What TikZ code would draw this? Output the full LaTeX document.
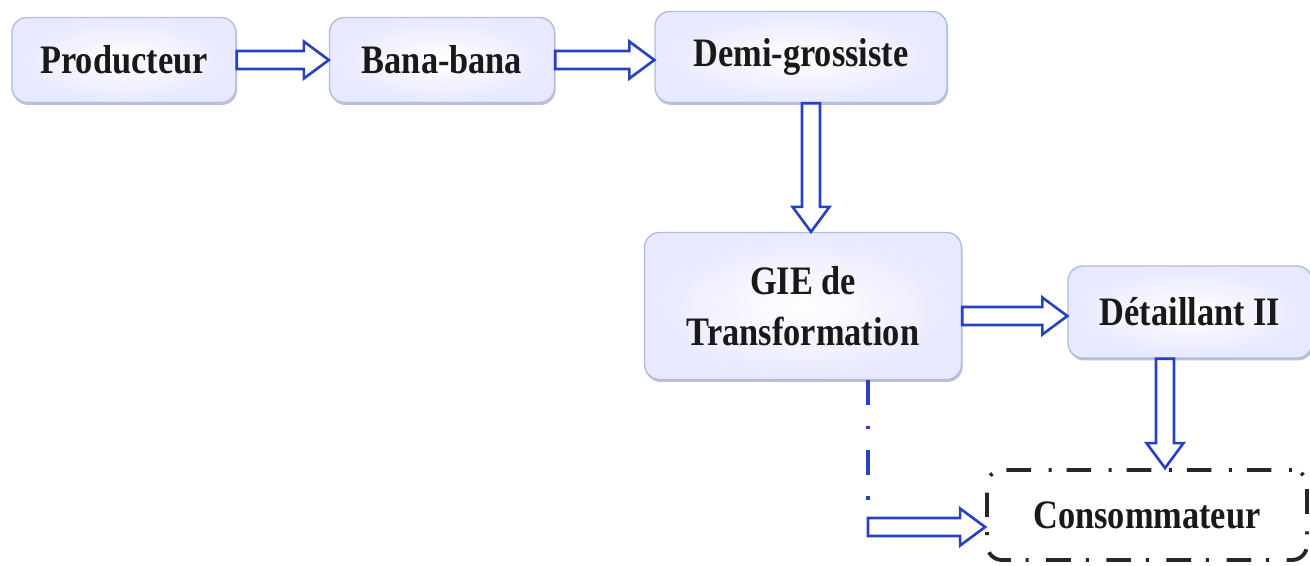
\documentclass[tikz,border=0pt]{standalone}
\usepackage{fontspec}
\setmainfont{Liberation Serif}[FakeStretch=0.85]
\usepackage{tikz}
\usetikzlibrary{calc, shadows}
\definecolor{arrowblue}{RGB}{40,65,195}
\definecolor{boxedge}{RGB}{175,190,220}
\tikzset{
  box/.style={rounded corners=0.3cm, draw=boxedge, line width=0.8pt,
    inner color=white, outer color=blue!9,
    drop shadow={shadow xshift=0.6pt, shadow yshift=-1.4pt, fill=blue!25!gray, opacity=0.4},
    font=\fontsize{23}{29}\selectfont\bfseries, text=black!90, align=center},
  endbox/.style={rounded corners=0.3cm, draw=black!85, line width=2.2pt,
    dash pattern=on 1.7pt off 10pt on 14pt off 8.5pt, fill=white,
    font=\fontsize{23}{29}\selectfont\bfseries, text=black!90},
  flow/.style={draw=arrowblue, line width=1.5pt, fill=white, line join=miter},
  dashdot/.style={draw=arrowblue, line width=2pt, dash pattern=on 14pt off 12pt on 2pt off 12pt}
}
\newcommand{\hollowarrow}[2]{% from #1 to #2
  \coordinate (ha-m) at ($(#2)!0.5cm!(#1)$);
  \draw[flow] ($(#1)!0.18cm!90:(#2)$) -- ($(ha-m)!0.18cm!90:(#2)$) -- ($(ha-m)!0.37cm!90:(#2)$)
    -- (#2) -- ($(ha-m)!0.37cm!-90:(#2)$) -- ($(ha-m)!0.18cm!-90:(#2)$) -- ($(#1)!0.18cm!-90:(#2)$) -- cycle;
}

\begin{document}
\begin{tikzpicture}[x=0.02cm, y=-0.02cm]
\useasboundingbox (0,0) rectangle (1310,565);

%boxes
\node[box, minimum width=4.48cm, minimum height=1.7cm] (prod) at (124,60) {Producteur};
\node[box, minimum width=4.5cm, minimum height=1.7cm] (bana) at (442,60) {Bana-bana};
\node[box, minimum width=5.84cm, minimum height=1.82cm] (demi) at (801,57) {Demi-grossiste};
\node[box, minimum width=6.34cm, minimum height=2.94cm] (gie) at (803,306) {GIE de\\Transformation};
\node[box, minimum width=4.88cm, minimum height=1.84cm] (det) at (1190,312) {Détaillant II};
\node[endbox, minimum width=6.4cm, minimum height=1.8cm] (cons) at (1147,515) {Consommateur};

%0
\hollowarrow{prod.east}{bana.west}

%1
\coordinate (b1) at (bana.east -| demi.west);
\hollowarrow{bana.east}{b1}

%2
\coordinate (d0) at ($(demi.south)+(10,0)$);
\coordinate (d1) at (d0 |- gie.north);
\hollowarrow{d0}{d1}

%3
\coordinate (g0) at ($(gie.east)+(0,10)$);
\coordinate (g1) at (g0 -| det.west);
\hollowarrow{g0}{g1}

%4
\coordinate (t0) at ($(det.south)+(-25,0)$);
\coordinate (t1) at (t0 |- cons.north);
\hollowarrow{t0}{t1}

%5
\coordinate (s0) at ($(gie.south)+(65,0)$);
\coordinate (s1) at ($(s0)+(0,132)$);
\draw[dashdot] (s0) -- (s1);
\coordinate (c1) at ($(cons.west)+(0,12)$);
\coordinate (c0) at (c1 -| s0);
\hollowarrow{c0}{c1}

\end{tikzpicture}
\end{document}
